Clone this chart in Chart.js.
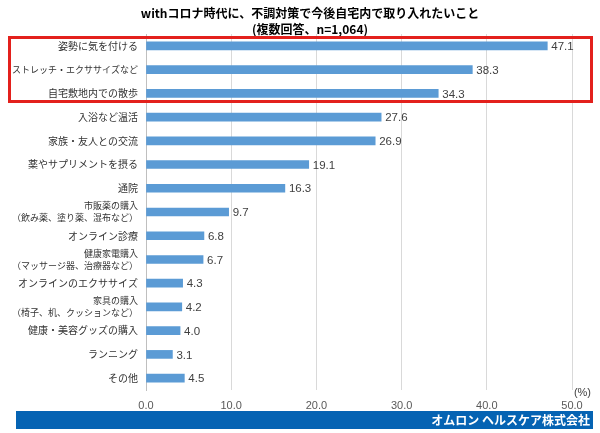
<!DOCTYPE html>
<html>
<head>
<meta charset="utf-8">
<script src="https://cdn.jsdelivr.net/npm/chart.js@4/dist/chart.umd.min.js"></script>
<style>
    body { margin: 0; background: #fff; }
</style>
</head>
<body>
<canvas id="surveyChart" width="600" height="433"></canvas>
<script>
var categories = [
    '姿勢に気を付ける',
    'ストレッチ・エクササイズなど',
    '自宅敷地内での散歩',
    '入浴など温活',
    '家族・友人との交流',
    '薬やサプリメントを摂る',
    '通院',
    ['市販薬の購入', '（飲み薬、塗り薬、湿布など）'],
    'オンライン診療',
    ['健康家電購入', '（マッサージ器、治療器など）'],
    'オンラインのエクササイズ',
    ['家具の購入', '（椅子、机、クッションなど）'],
    '健康・美容グッズの購入',
    'ランニング',
    'その他'
];
var percentages = [47.1, 38.3, 34.3, 27.6, 26.9, 19.1, 16.3, 9.7, 6.8, 6.7, 4.3, 4.2, 4.0, 3.1, 4.5];
var xTicks = [0, 10, 20, 30, 40, 50];
var titleLines = ['withコロナ時代に、不調対策で今後自宅内で取り入れたいこと', '(複数回答、n=1,064)'];
var unitLabel = '(%)';
var sourceLabel = 'オムロン ヘルスケア株式会社';

var jpFont = '"Noto Sans CJK JP", sans-serif';
var numFont = '"Liberation Sans", Arial, sans-serif';

// value labels at the end of each bar
var valueLabels = {
    id: 'valueLabels',
    afterDatasetsDraw: function (chart) {
        var ctx = chart.ctx;
        var meta = chart.getDatasetMeta(0);
        ctx.save();
        ctx.font = '11.5px ' + numFont;
        ctx.fillStyle = '#404040';
        ctx.textAlign = 'left';
        ctx.textBaseline = 'middle';
        meta.data.forEach(function (bar, i) {
            ctx.fillText(percentages[i].toFixed(1), bar.x + 4, bar.y + 1);
        });
        ctx.restore();
    }
};

// title, highlight box, unit and source band
var decorations = {
    id: 'decorations',
    beforeDraw: function (chart) {
        var ctx = chart.ctx;
        ctx.save();
        ctx.fillStyle = '#fff';
        ctx.fillRect(0, 0, chart.width, chart.height);
        ctx.restore();
    },
    afterDraw: function (chart) {
        var ctx = chart.ctx;
        ctx.save();

        ctx.fillStyle = '#000';
        ctx.font = 'bold 12px ' + jpFont;
        ctx.textAlign = 'center';
        ctx.textBaseline = 'middle';
        ctx.fillText(titleLines[0], 310, 13);
        ctx.fillText(titleLines[1], 310, 29);

        ctx.strokeStyle = '#e3201c';
        ctx.lineWidth = 3;
        ctx.strokeRect(9.5, 37.5, 582, 64);

        ctx.fillStyle = '#404040';
        ctx.font = '11px ' + numFont;
        ctx.textAlign = 'right';
        ctx.fillText(unitLabel, 591, 393);

        ctx.fillStyle = '#0563b3';
        ctx.fillRect(16, 411, 577, 18);
        ctx.fillStyle = '#fff';
        ctx.font = 'bold 12px ' + jpFont;
        ctx.fillText(sourceLabel, 590, 420);

        ctx.restore();
    }
};

new Chart(document.getElementById('surveyChart').getContext('2d'), {
    type: 'bar',
    data: {
        labels: categories,
        datasets: [{
            data: percentages,
            backgroundColor: '#5b9bd5',
            barThickness: 8
        }]
    },
    options: {
        indexAxis: 'y',
        responsive: false,
        animation: false,
        devicePixelRatio: 1,
        layout: { padding: { top: 34, right: 28, bottom: 0, left: 0 } },
        plugins: {
            legend: { display: false },
            tooltip: { enabled: false }
        },
        scales: {
            x: {
                min: xTicks[0],
                max: xTicks[xTicks.length - 1],
                afterBuildTicks: function (scale) {
                    scale.ticks = xTicks.map(v => ({ value: v }));
                },
                afterFit: function (scale) { scale.height = 43; },
                grid: { color: '#d9d9d9', drawTicks: false },
                border: { display: false },
                ticks: {
                    padding: 9,
                    color: '#595959',
                    font: { size: 11, family: numFont },
                    callback: function (v) { return Number(v).toFixed(1); }
                }
            },
            y: {
                afterFit: function (scale) { scale.width = 146; },
                grid: { display: false, drawTicks: false },
                border: { color: '#bfbfbf' },
                ticks: {
                    autoSkip: false,
                    padding: 8,
                    color: '#333333',
                    font: function (c) {
                        var label = categories[c.index];
                        var longest = [].concat(label).reduce((m, s) => Math.max(m, s.length), 0);
                        return { size: longest >= 13 ? 9 : 10, family: jpFont, lineHeight: 1.35 };
                    }
                }
            }
        }
    },
    plugins: [valueLabels, decorations]
});
</script>
</body>
</html>
